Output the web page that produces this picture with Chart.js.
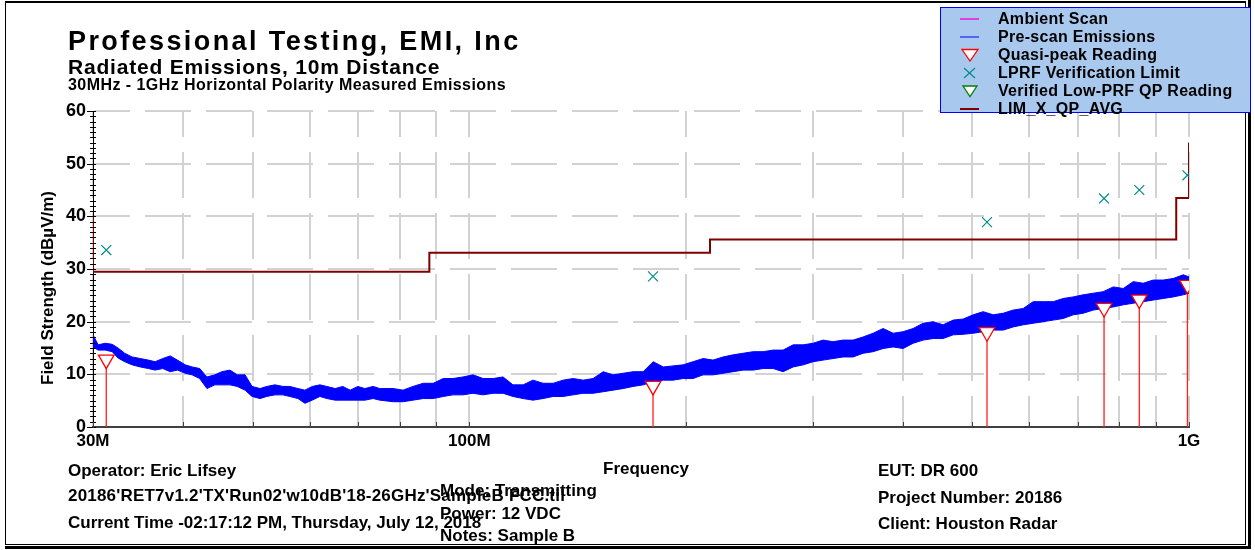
<!DOCTYPE html>
<html>
<head>
<meta charset="utf-8">
<script src="https://cdn.jsdelivr.net/npm/chart.js@4/dist/chart.umd.min.js"></script>
<style>
  body { margin: 0; background: #fff; }
  #page { position: relative; width: 1255px; height: 550px; overflow: hidden; font-family: "Liberation Sans", Arial, sans-serif; font-weight: bold; color: #000; }
  #chart { position: absolute; left: 0; top: 0; }
  .t { position: absolute; white-space: nowrap; line-height: 1; }
  .frame { position: absolute; left: 5px; top: 1px; width: 1239px; height: 541px; border: 1px solid #000; border-top-width: 2px; }
  .thick { position: absolute; background: #000; }
  #legend { position: absolute; left: 940px; top: 7px; width: 309px; height: 104px; background: #a8c8ee; border: 1px solid #0000ff; }
  .li { position: absolute; left: 0; height: 18px; width: 320px; }
  .li svg { position: absolute; left: 18px; top: 2px; }
  .li span { position: absolute; left: 57px; top: 1px; font-size: 16px; letter-spacing: 0.3px; line-height: 1; white-space: nowrap; }
</style>
</head>
<body>
<div id="page">
  <canvas id="chart" width="1255" height="550"></canvas>
  <div class="frame"></div>
  <div class="thick" style="left:5px;top:546px;width:1246px;height:3px"></div>
  <div class="thick" style="left:1248px;top:0;width:3px;height:549px"></div>

  <div class="t" style="left:68px;top:28px;font-size:27px;letter-spacing:2.4px">Professional Testing, EMI, Inc</div>
  <div class="t" style="left:68px;top:56px;font-size:21px;letter-spacing:0.8px">Radiated Emissions, 10m Distance</div>
  <div class="t" style="left:68px;top:77px;font-size:16px;letter-spacing:0.45px">30MHz - 1GHz Horizontal Polarity Measured Emissions</div>

  <div class="t" style="left:47px;top:288px;font-size:17px;transform:translate(-50%,-50%) rotate(-90deg)">Field Strength (dBµV/m)</div>
  <div class="t" style="left:603px;top:460px;font-size:17px">Frequency</div>

  <div class="t" style="left:68px;top:462px;font-size:17px">Operator: Eric Lifsey</div>
  <div class="t" style="left:68px;top:487px;font-size:17px;letter-spacing:0.2px">20186'RET7v1.2'TX'Run02'w10dB'18-26GHz'SampleB FCC.til</div>
  <div class="t" style="left:68px;top:514px;font-size:17px">Current Time -02:17:12 PM, Thursday, July 12, 2018</div>
  <div class="t" style="left:440px;top:482px;font-size:17px">Mode: Transmitting</div>
  <div class="t" style="left:440px;top:505px;font-size:17px">Power: 12 VDC</div>
  <div class="t" style="left:440px;top:527px;font-size:17px">Notes: Sample B</div>
  <div class="t" style="left:878px;top:462px;font-size:17px">EUT: DR 600</div>
  <div class="t" style="left:878px;top:489px;font-size:17px">Project Number: 20186</div>
  <div class="t" style="left:878px;top:515px;font-size:17px">Client: Houston Radar</div>

  <div id="legend">
    <div class="li" style="top:2px"><svg width="22" height="14"><line x1="1" y1="7" x2="20" y2="7" stroke="#e040e0" stroke-width="2"/></svg><span>Ambient Scan</span></div>
    <div class="li" style="top:20px"><svg width="22" height="14"><line x1="1" y1="7" x2="20" y2="7" stroke="#0000ff" stroke-width="1"/></svg><span>Pre-scan Emissions</span></div>
    <div class="li" style="top:38px"><svg width="22" height="14"><polygon points="3,1.5 19,1.5 11,13" fill="#fff" stroke="#ff0000" stroke-width="1.3"/></svg><span>Quasi-peak Reading</span></div>
    <div class="li" style="top:56px"><svg width="22" height="14"><line x1="5" y1="2" x2="16" y2="12" stroke="#008b8b" stroke-width="1.2"/><line x1="16" y1="2" x2="5" y2="12" stroke="#008b8b" stroke-width="1.2"/></svg><span>LPRF Verification Limit</span></div>
    <div class="li" style="top:74px"><svg width="22" height="14"><polygon points="4,2 18,2 11,12.5" fill="#fff" stroke="#008000" stroke-width="1.3"/></svg><span>Verified Low-PRF QP Reading</span></div>
    <div class="li" style="top:92px"><svg width="22" height="14"><line x1="1" y1="7" x2="20" y2="7" stroke="#800000" stroke-width="2"/></svg><span>LIM_X_QP_AVG</span></div>
  </div>
</div>

<script>
// frequencies in MHz, levels in dBuV/m

// pre-scan trace, upper and lower edge of the noisy band
const scanFreq = [30.0, 30.5, 31.2, 31.9, 32.5, 33.2, 34.0, 34.9, 35.8, 36.6, 37.5, 38.4, 39.3, 40.3, 41.2, 42.2, 43.2, 44.3, 45.3, 46.5,
  47.6, 48.8, 49.9, 51.2, 52.3, 53.7, 55.1, 56.3, 57.8, 59.1, 60.5, 62.0, 63.4, 65.1, 66.7, 68.3, 70.0, 71.6, 73.5, 75.1,
  78.4, 80.9, 83.5, 86.3, 89.1, 92.0, 94.9, 98.0, 101.2, 104.5, 107.9, 111.4, 115.0, 118.8, 122.6, 126.6, 130.8, 135.0, 139.4, 143.9,
  148.6, 153.5, 158.4, 163.6, 168.9, 174.4, 180.1, 186.0, 191.9, 198.2, 204.6, 211.3, 218.1, 225.2, 232.6, 240.1, 248.0, 256.0, 264.3, 272.9,
  281.8, 291.0, 300.4, 310.1, 320.2, 330.7, 341.4, 352.5, 364.0, 375.8, 388.1, 400.7, 413.7, 427.2, 441.1, 455.4, 470.3, 485.6, 501.3, 517.6,
  534.5, 551.9, 569.8, 588.3, 607.5, 627.2, 647.6, 668.7, 690.5, 712.9, 736.1, 760.0, 784.8, 810.3, 836.6, 863.8, 891.9, 921.0, 950.9, 981.8, 1000];
const scanHigh = [17.5, 15.6, 15.9, 15.7, 15.0, 14.0, 13.3, 13.0, 12.7, 12.4, 13.0, 13.5, 12.7, 11.8, 11.4, 11.1, 9.5, 9.9, 10.5, 10.8,
  9.9, 9.9, 7.7, 7.3, 7.7, 8.0, 7.7, 7.7, 7.3, 7.0, 7.7, 8.0, 7.7, 7.3, 7.7, 7.0, 7.7, 7.3, 7.7, 7.3,
  7.3, 7.0, 7.7, 8.3, 8.3, 9.2, 9.2, 9.5, 9.9, 9.2, 9.2, 9.5, 8.0, 8.0, 8.9, 8.3, 8.3, 8.9, 9.2, 8.9,
  9.2, 10.5, 9.9, 10.2, 10.5, 10.5, 12.4, 11.4, 11.6, 11.8, 12.4, 13.0, 12.7, 13.3, 13.7, 14.0, 14.3, 14.3, 14.6, 14.6,
  15.6, 15.6, 15.9, 16.5, 16.2, 16.5, 16.5, 17.1, 17.8, 18.7, 17.8, 18.1, 18.7, 19.7, 20.0, 19.4, 20.3, 20.5, 21.3, 21.9,
  21.3, 21.6, 22.2, 22.5, 23.8, 23.8, 23.8, 24.4, 24.7, 25.1, 25.4, 25.7, 26.6, 26.3, 27.6, 27.3, 27.9, 27.9, 28.2, 28.9, 28.5];
const scanLow = [15.2, 14.6, 14.6, 14.3, 13.1, 12.4, 11.8, 11.4, 11.1, 10.8, 11.1, 10.5, 10.8, 10.2, 9.9, 9.2, 7.3, 8.0, 8.0, 8.0,
  7.7, 7.0, 5.8, 5.4, 5.8, 6.1, 6.1, 5.8, 5.4, 4.5, 5.1, 5.8, 5.4, 5.1, 5.1, 5.1, 5.1, 5.1, 5.4, 5.1,
  4.8, 4.8, 5.1, 5.4, 5.4, 5.8, 6.1, 6.1, 6.4, 6.1, 6.4, 6.4, 5.8, 5.4, 5.1, 5.4, 5.8, 5.8, 6.1, 6.4,
  6.4, 6.7, 7.0, 7.3, 7.7, 8.0, 8.6, 8.9, 8.9, 9.2, 9.2, 9.9, 9.9, 10.2, 10.5, 10.8, 10.8, 11.1, 11.1, 10.5,
  11.4, 11.8, 12.4, 12.7, 13.0, 13.3, 13.3, 14.0, 14.3, 14.9, 15.2, 14.9, 15.9, 16.5, 16.8, 16.8, 17.5, 17.6, 17.8, 18.1,
  18.4, 18.4, 19.0, 19.4, 19.7, 20.0, 20.3, 20.6, 21.3, 21.6, 22.2, 22.5, 22.8, 23.2, 23.5, 23.8, 24.1, 24.4, 24.7, 25.1, 25.4];

// limit line (stepped)
const limitFreq = [30, 30, 88, 216, 960, 1000];
const limitLevel = [40, 29.5, 33.1, 35.6, 43.5, 54];

// quasi-peak readings and LPRF verification limits
const qpFreq = [31.3, 180, 524, 762, 853, 995];
const qpLevel = [12.8, 7.8, 18.0, 22.6, 24.2, 27.0];
const lprfFreq = [31.3, 180, 524, 762, 853, 995];
const lprfLevel = [33.6, 28.6, 38.9, 43.4, 45.0, 47.8];

// axes
const xGridValues = [30, 40, 50, 60, 70, 80, 90, 100, 200, 300, 400, 500, 600, 700, 800, 900, 1000];
const xTickValues = [30, 100, 1000];
const xTickLabels = ['30M', '100M', '1G'];
const yTickValues = [0, 10, 20, 30, 40, 50, 60];

const pts = (xs, ys) => xs.map((x, i) => ({ x: x, y: ys[i] }));

// vertical stems under the quasi-peak markers, broken by null points
const stems = [];
qpFreq.forEach((f, i) => {
  stems.push({ x: f, y: 0 }, { x: f, y: qpLevel[i] }, { x: f, y: null });
});

// little ticks on the axes, like the original plot
const axisTicks = {
  id: 'axisTicks',
  afterDraw(chart) {
    const { ctx, chartArea: a, scales: { x, y } } = chart;
    ctx.save();
    ctx.lineWidth = 1;
    ctx.strokeStyle = '#000';
    ctx.beginPath();
    for (let v = 0; v <= 60; v++) {
      const py = Math.round(y.getPixelForValue(v)) + 0.5;
      const len = v % 10 === 0 ? 6 : 3;
      ctx.moveTo(a.left - len, py);
      ctx.lineTo(a.left + 3, py);
    }
    ctx.stroke();
    ctx.strokeStyle = '#404040';
    ctx.beginPath();
    xGridValues.forEach(v => {
      const px = Math.round(x.getPixelForValue(v)) + 0.5;
      ctx.moveTo(px, a.bottom + 1);
      ctx.lineTo(px, a.bottom - 5);
    });
    ctx.stroke();
    ctx.restore();
  }
};

const ctx = document.getElementById('chart').getContext('2d');
new Chart(ctx, {
  type: 'scatter',
  data: {
    datasets: [
      {
        label: 'Quasi-peak Reading',
        data: pts(qpFreq, qpLevel),
        pointStyle: 'triangle',
        rotation: 180,
        pointRadius: 9,
        backgroundColor: '#ffffff',
        borderColor: '#ff0000',
        borderWidth: 1.3,
        order: 0
      },
      {
        label: 'stems',
        data: stems,
        showLine: true,
        spanGaps: false,
        pointRadius: 0,
        borderColor: '#ff2020',
        borderWidth: 1.3,
        order: 1
      },
      {
        label: 'LPRF Verification Limit',
        data: pts(lprfFreq, lprfLevel),
        pointStyle: 'crossRot',
        pointRadius: 7,
        borderColor: '#008b8b',
        borderWidth: 1.2,
        order: 2
      },
      {
        label: 'LIM_X_QP_AVG',
        data: pts(limitFreq, limitLevel),
        showLine: true,
        stepped: 'before',
        pointRadius: 0,
        borderColor: '#800000',
        borderWidth: 2,
        order: 3
      },
      {
        label: 'Pre-scan Emissions',
        data: pts(scanFreq, scanHigh),
        showLine: true,
        pointRadius: 0,
        borderColor: '#0000ff',
        borderWidth: 1,
        backgroundColor: '#0000ff',
        fill: '+1',
        order: 4
      },
      {
        label: 'Pre-scan low',
        data: pts(scanFreq, scanLow),
        showLine: true,
        pointRadius: 0,
        borderColor: '#0000ff',
        borderWidth: 1,
        order: 5
      }
    ]
  },
  options: {
    responsive: false,
    animation: false,
    layout: { padding: { left: 0, top: 111, right: 66, bottom: 83 } },
    plugins: { legend: { display: false }, tooltip: { enabled: false } },
    scales: {
      x: {
        type: 'logarithmic',
        min: 30,
        max: 1000,
        afterFit: s => { s.height = 40; },
        afterBuildTicks: s => { s.ticks = xGridValues.map(v => ({ value: v })); },
        grid: { color: '#d2d2d2', lineWidth: 2, drawTicks: false },
        border: { color: '#404040', width: 2, dash: [46, 15], dashOffset: 20 },
        ticks: {
          autoSkip: false,
          maxRotation: 0,
          padding: 4,
          color: '#000',
          font: { family: 'Liberation Sans', size: 17, weight: 'bold' },
          callback: v => {
            const i = xTickValues.indexOf(v);
            return i >= 0 ? xTickLabels[i] : '';
          }
        }
      },
      y: {
        min: 0,
        max: 60,
        afterFit: s => { s.width = 93; },
        afterBuildTicks: s => { s.ticks = yTickValues.map(v => ({ value: v })); },
        grid: { color: '#d2d2d2', lineWidth: 2, drawTicks: false },
        border: { color: '#000', width: 1, dash: [46, 15], dashOffset: 10 },
        ticks: {
          padding: 7,
          color: '#000',
          font: { family: 'Liberation Sans', size: 18, weight: 'bold' }
        }
      }
    }
  },
  plugins: [axisTicks]
});
</script>
</body>
</html>
